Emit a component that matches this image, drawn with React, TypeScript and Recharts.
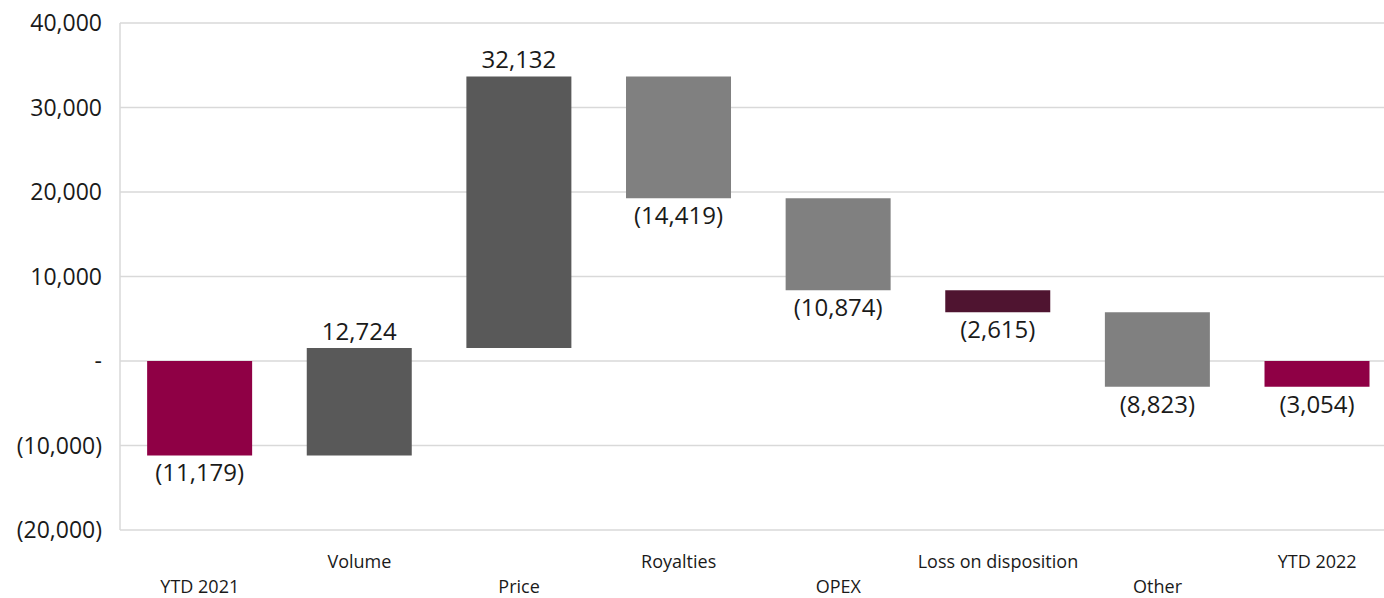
import { Bar, BarChart, CartesianGrid, Cell, LabelList, XAxis, YAxis } from "recharts";

const categories = ["YTD 2021", "Volume", "Price", "Royalties", "OPEX", "Loss on disposition", "Other", "YTD 2022"];
const deltas = [-11179, 12724, 32132, -14419, -10874, -2615, -8823, -3054];
const isTotal = [true, false, false, false, false, false, false, true];
const barColors = ["#8f0045", "#595959", "#595959", "#808080", "#808080", "#4f1430", "#808080", "#8f0045"];
const yTicks = [-20000, -10000, 0, 10000, 20000, 30000, 40000];

const FONT = "'Open Sans', sans-serif";

// running totals for the floating bars
let running = 0;
const chartData = categories.map((name, i) => {
  let start = running;
  let end = running + deltas[i];
  if (isTotal[i]) {
    start = 0;
    end = deltas[i];
  }
  running = end;
  return { name, delta: deltas[i], range: [Math.min(start, end), Math.max(start, end)] };
});

const fmt = (v: number) => {
  if (v === 0) return "-";
  const s = Math.abs(v).toLocaleString("en-US");
  return v < 0 ? `(${s})` : s;
};

const CategoryTick = (props: any) => {
  const { x, y, payload, index } = props;
  const dy = index % 2 === 1 ? 30 : 55;
  return (
    <text x={x} y={y + dy} textAnchor="middle" fontFamily={FONT} fontSize={18} fill="#1a1a1a">
      {payload.value}
    </text>
  );
};

const ValueLabel = (props: any) => {
  const { x, y, width, height, index } = props;
  const v = deltas[index];
  const top = Math.min(y, y + height);
  const bottom = Math.max(y, y + height);
  const ly = v >= 0 ? top - 8 : bottom + 26;
  return (
    <text x={x + width / 2} y={ly} textAnchor="middle" fontFamily={FONT} fontSize={24} fill="#1a1a1a">
      {fmt(v)}
    </text>
  );
};

export default function App() {
  return (
    <div style={{ position: "absolute", left: 0, top: 0, width: 1384, height: 598, overflow: "hidden" }}>
      <BarChart
        width={1397}
        height={598}
        data={chartData}
        margin={{ top: 23, right: 0, bottom: 0, left: 0 }}
        barCategoryGap="17%"
      >
        <CartesianGrid vertical={false} stroke="#d9d9d9" strokeWidth={1.5} />
        <XAxis
          dataKey="name"
          axisLine={false}
          tickLine={false}
          height={68}
          interval={0}
          tick={<CategoryTick />}
        />
        <YAxis
          width={120}
          domain={[-20000, 40000]}
          ticks={yTicks}
          tickFormatter={fmt}
          axisLine={{ stroke: "#d9d9d9", strokeWidth: 1.5 }}
          tickLine={false}
          tick={{ fontFamily: FONT, fontSize: 23, fill: "#1a1a1a" }}
          tickMargin={12}
        />
        <Bar dataKey="range" isAnimationActive={false}>
          {chartData.map((d, i) => (
            <Cell key={d.name} fill={barColors[i]} />
          ))}
          <LabelList dataKey="delta" content={<ValueLabel />} />
        </Bar>
      </BarChart>
    </div>
  );
}
